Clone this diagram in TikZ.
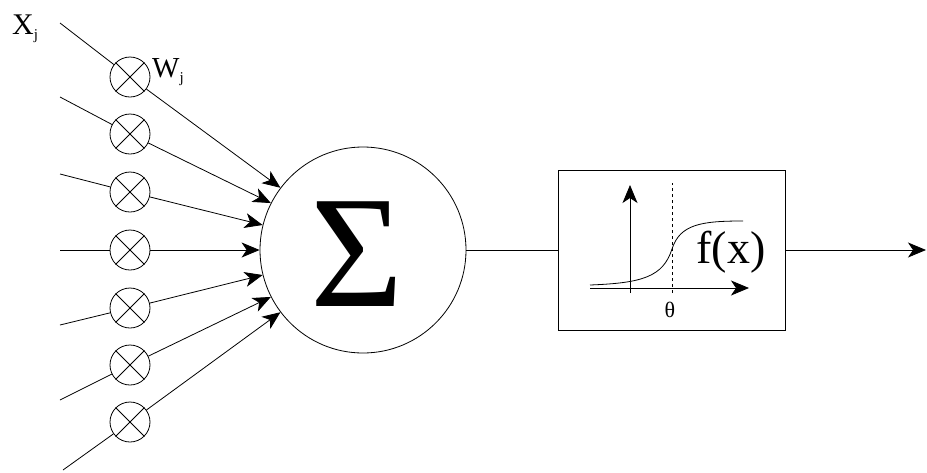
\documentclass[tikz,border=0pt]{standalone}
\usepackage{fontspec}
\setmainfont{Liberation Serif}
\usetikzlibrary{arrows.meta}
\begin{document}
\begin{tikzpicture}[x=1pt,y=-1pt,
  wire/.style={line width=0.8pt},
  arr/.style={wire,-{Stealth[length=18pt,width=15pt,inset=5pt]}},
  mult/.style={circle,draw,line width=0.8pt,minimum size=40pt,inner sep=0pt},
  lbl/.style={inner sep=0pt}
]
\useasboundingbox (0,0) rectangle (927,472);
% summation
\node[circle,draw,minimum size=206pt,inner sep=0pt,line width=0.8pt] (sum) at (363,250) {};
\node[lbl] (sig) at (357,254) {\fontsize{160}{160}\selectfont Σ};
% inputs and multipliers
\foreach \i/\y/\ix/\iy/\a in {1/77/60/23/143, 2/134/60/97/153, 3/192/60/174/166, 4/250/60/250/180, 5/308/60/325/194, 6/365/60/400/207, 7/422/63/470/217}{
  \coordinate (in\i) at (\ix,\iy);
  \node[mult] (m\i) at (130,\y) {};
  \draw[wire] (m\i.45) -- (m\i.225) (m\i.135) -- (m\i.315);
  \draw[wire] (in\i) -- (m\i);
  \draw[arr] (m\i) -- (sum.\a);
}
% labels
\node[lbl,anchor=base west] (xj) at (12,34) {\fontsize{30}{30}\selectfont X\raisebox{-5pt}{\fontsize{15}{15}\selectfont j}};
\node[lbl,anchor=base west] (wj) at (152,77) {\fontsize{29}{29}\selectfont W\raisebox{-5pt}{\fontsize{15}{15}\selectfont j}};
% activation box
\node[draw,line width=0.8pt,minimum width=227pt,minimum height=160pt,inner sep=0pt] (fbox) at (671.5,250) {};
\draw[wire] (sum) -- (fbox);
\coordinate (out) at (926,250);
\draw[arr] (fbox) -- (out);
% axes
\coordinate (yb) at (630,293);
\coordinate (yt) at (630,185);
\coordinate (xl) at (590,288);
\coordinate (xr) at (749,288);
\draw[arr] (yb) -- (yt);
\draw[arr] (xl) -- (xr);
\coordinate (db) at (672,293);
\coordinate (dt) at (672,183);
\draw[dashed,line width=0.6pt] (db) -- (dt);
\draw[wire] (590,285) .. controls (642,283) and (663,277) .. (672,249) .. controls (680,224) and (702,221) .. (743,221);
\node[lbl] (theta) at (670,310) {\fontsize{22}{22}\selectfont θ};
\node[lbl] (fx) at (731,252) {\fontsize{46}{46}\selectfont f(x)};
\end{tikzpicture}
\end{document}
